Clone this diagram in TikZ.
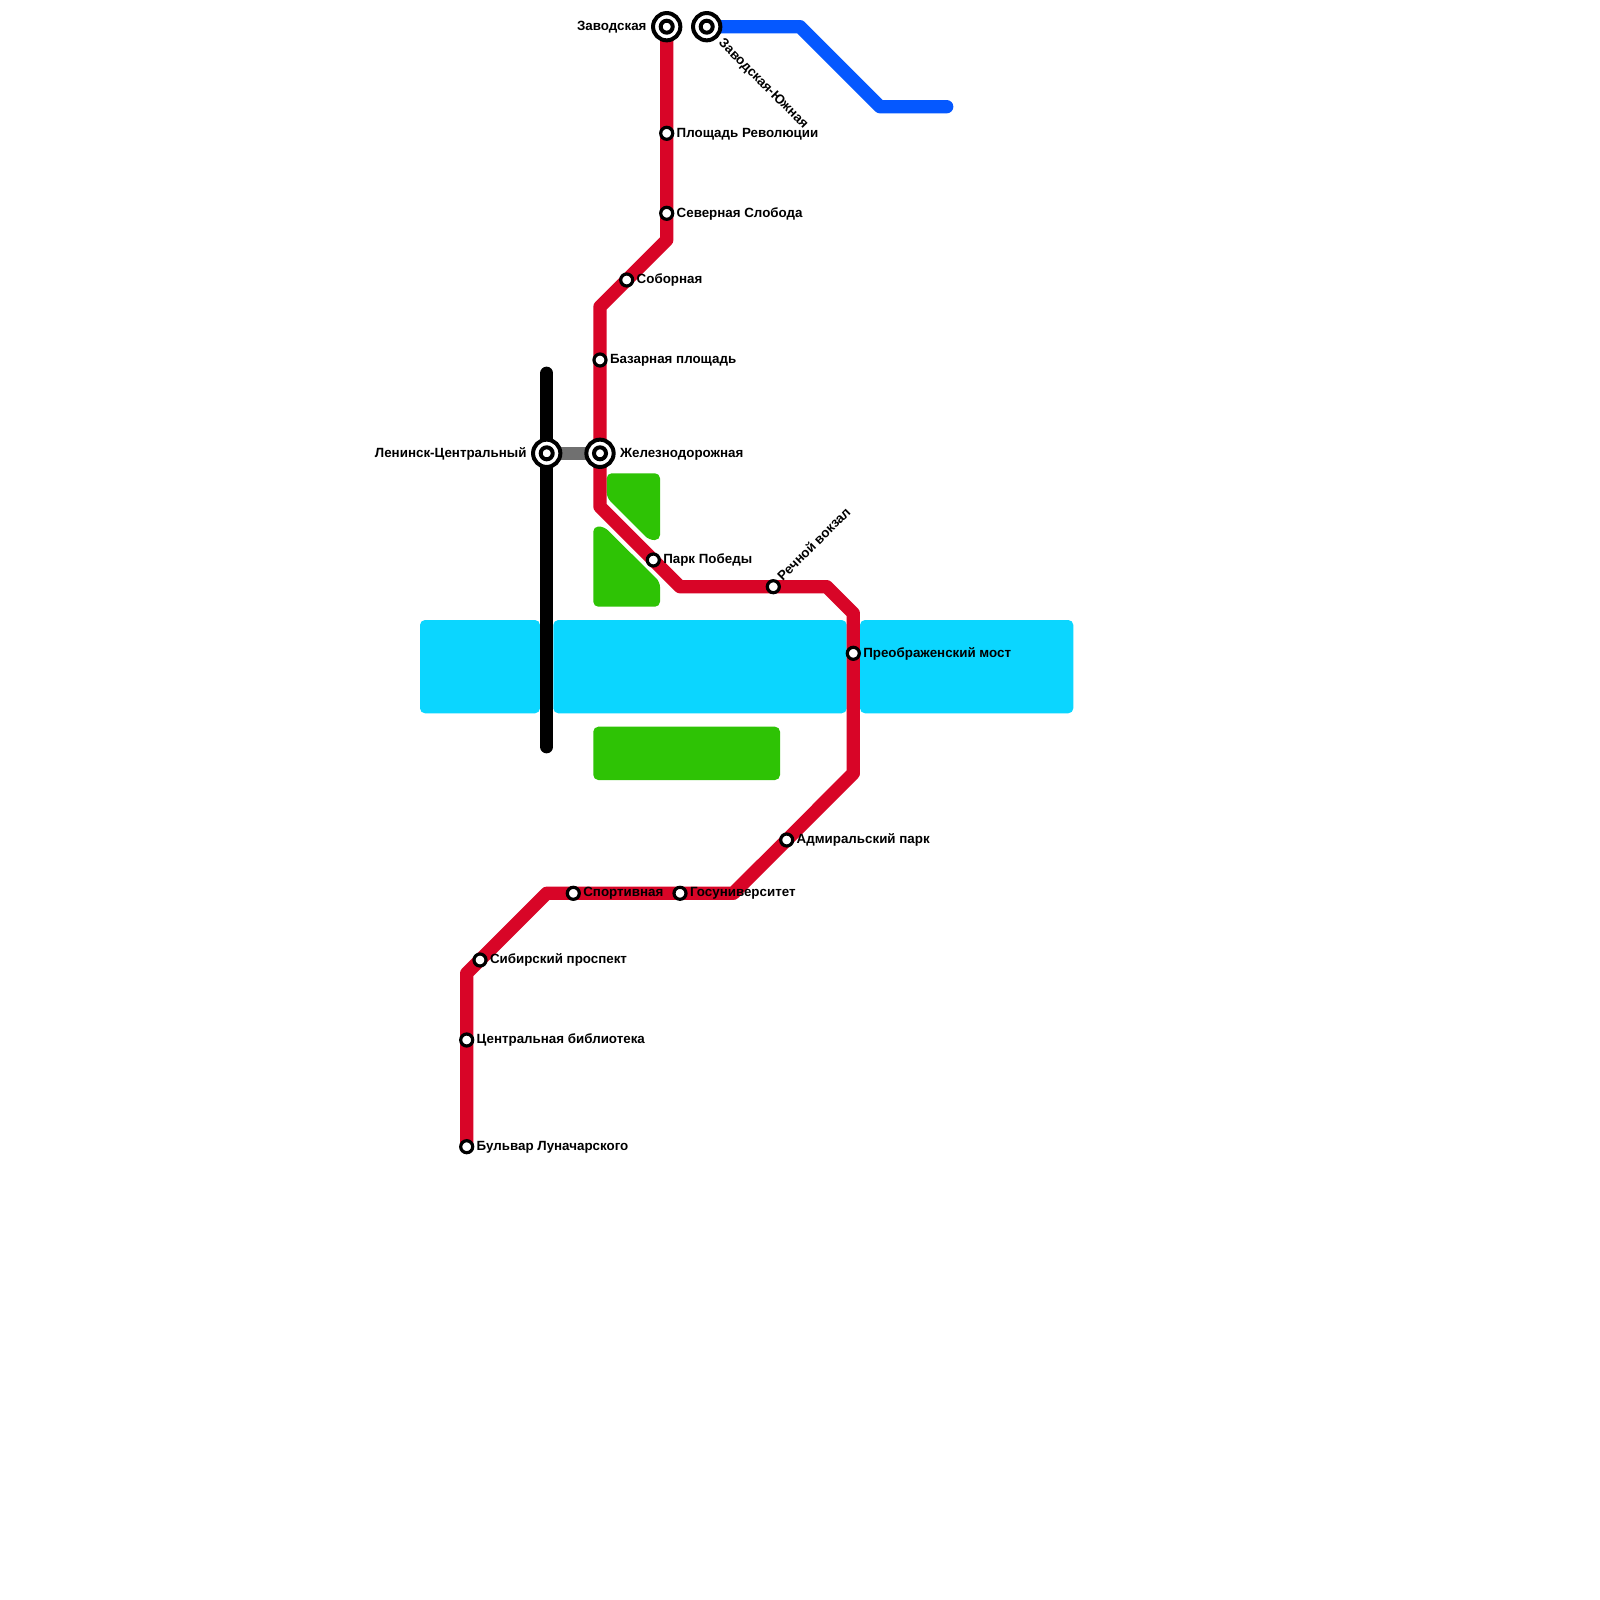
\documentclass[tikz,border=0pt]{standalone}
\usepackage{fontspec}
\setmainfont{Liberation Sans}
\usetikzlibrary{calc}
\pgfdeclarelayer{areas}
\pgfdeclarelayer{lines}
\pgfsetlayers{areas,lines,main}
\definecolor{redline}{HTML}{D80527}
\definecolor{blueline}{HTML}{0558FF}
\definecolor{water}{HTML}{0BD6FF}
\definecolor{park}{HTML}{2EC305}
\definecolor{xfer}{HTML}{707070}
\tikzset{
  stn/.style={circle,draw=black,fill=white,line width=3.2pt,minimum size=12pt,inner sep=0pt,outer sep=0pt},
  hub/.style={circle,draw=black,fill=white,line width=4pt,minimum size=27.3pt,inner sep=0pt,outer sep=0pt,
    path picture={\draw[black,line width=4pt] (path picture bounding box.center) circle[radius=6pt];}},
  lbl/.style={font=\fontsize{13.35pt}{14pt}\selectfont\bfseries,text=black,inner sep=0pt,outer sep=0pt,anchor=west},
  lblr/.style={lbl,anchor=east},
  track/.style={line width=13.33pt,line join=round,line cap=butt},
  waterbox/.style={fill=water,rounded corners=5pt},
  parkbox/.style={fill=park,rounded corners=5pt}
}
\begin{document}
\begin{tikzpicture}[x=1pt,y=-1pt]
\useasboundingbox (0,0) rectangle (1600,1600);
% stations
\node[hub] (zav) at (666.7,26.7) {};
\node[hub] (zavs) at (706.7,26.7) {};
\node[stn] (plr) at (666.7,133.3) {};
\node[stn] (sev) at (666.7,213.3) {};
\node[stn] (sob) at (626.7,280) {};
\node[stn] (baz) at (600,360) {};
\node[hub] (zhd) at (600,453.3) {};
\node[hub] (len) at (546.7,453.3) {};
\node[stn] (pob) at (653.3,560) {};
\node[stn] (rec) at (773.3,586.7) {};
\node[stn] (pre) at (853.3,653.3) {};
\node[stn] (adm) at (786.7,840) {};
\node[stn] (gos) at (680,893.3) {};
\node[stn] (spo) at (573.3,893.3) {};
\node[stn] (sib) at (480,960) {};
\node[stn] (cen) at (466.7,1040) {};
\node[stn] (bul) at (466.7,1146.7) {};
% bends and free ends
\coordinate (b1) at (666.7,240);
\coordinate (b2) at (600,306.7);
\coordinate (b3) at (600,506.7);
\coordinate (b4) at (680,586.7);
\coordinate (b5) at (826.7,586.7);
\coordinate (b6) at (853.3,613.3);
\coordinate (b7) at (853.3,773.3);
\coordinate (b8) at (733.3,893.3);
\coordinate (b9) at (546.7,893.3);
\coordinate (b10) at (466.7,973.3);
\coordinate (u1) at (800,26.7);
\coordinate (u2) at (880,106.7);
\coordinate (u3) at (946.7,106.7);
\coordinate (k1) at (546.7,373.3);
\coordinate (k2) at (546.7,746.7);
% labels
\node[lblr] (tzav) at (646.5,27) {Заводская};
\node[lbl,rotate=-45] (tzavs) at (720.5,41.5) {Заводская-Южная};
\node[lbl] (tplr) at (676.7,134) {Площадь Революции};
\node[lbl] (tsev) at (676.7,213.6) {Северная Слобода};
\node[lbl] (tsob) at (636.7,280) {Соборная};
\node[lbl] (tbaz) at (610,360.4) {Базарная площадь};
\node[lbl] (tzhd) at (620,454) {Железнодорожная};
\node[lblr] (tlen) at (526.5,453.7) {Ленинск-Центральный};
\node[lbl] (tpob) at (663.3,560) {Парк Победы};
\node[lbl,rotate=45] (trec) at (779.5,578) {Речной вокзал};
\node[lbl] (tpre) at (863.3,653.6) {Преображенский мост};
\node[lbl] (tadm) at (796.7,840) {Адмиральский парк};
\node[lbl] (tgos) at (690,893.6) {Госуниверситет};
\node[lbl] (tspo) at (583.3,893.6) {Спортивная};
\node[lbl] (tsib) at (490,960) {Сибирский проспект};
\node[lbl] (tcen) at (476.7,1040) {Центральная библиотека};
\node[lbl] (tbul) at (476.7,1147) {Бульвар Луначарского};
\begin{pgfonlayer}{areas}
\fill[white] (0,0) rectangle (1600,1600);
\fill[waterbox] (420,620) rectangle (540,713.3);
\fill[waterbox] (553.3,620) rectangle (846.7,713.3);
\fill[waterbox] (860,620) rectangle (1073.3,713.3);
\fill[parkbox] (606.7,473.3) -- (660,473.3) -- (660,540) -- (649,540) -- (606.7,497.5) -- cycle;
\fill[parkbox] (593.3,526.5) -- (604,526.5) -- (660,582) -- (660,606.7) -- (593.3,606.7) -- cycle;
\fill[parkbox] (593.3,726.7) rectangle (780,780);
\end{pgfonlayer}
\begin{pgfonlayer}{lines}
\draw[track,redline] (zav.center) -- (plr.center) -- (sev.center) -- (b1) -- (sob.center) -- (b2) -- (baz.center) -- (zhd.center) -- (b3) -- (pob.center) -- (b4) -- (rec.center) -- (b5) -- (b6) -- (pre.center) -- (b7) -- (adm.center) -- (b8) -- (gos.center) -- (spo.center) -- (b9) -- (b10) -- (cen.center) -- (bul.center);
\draw[track,blueline,line cap=round] (u3) -- (u2) -- (u1) -- (zavs.center);
\draw[track,black,line cap=round] (k1) -- (len.center) -- (k2);
\draw[track,xfer] (len.center) -- (zhd.center);
\end{pgfonlayer}
\end{tikzpicture}
\end{document}
